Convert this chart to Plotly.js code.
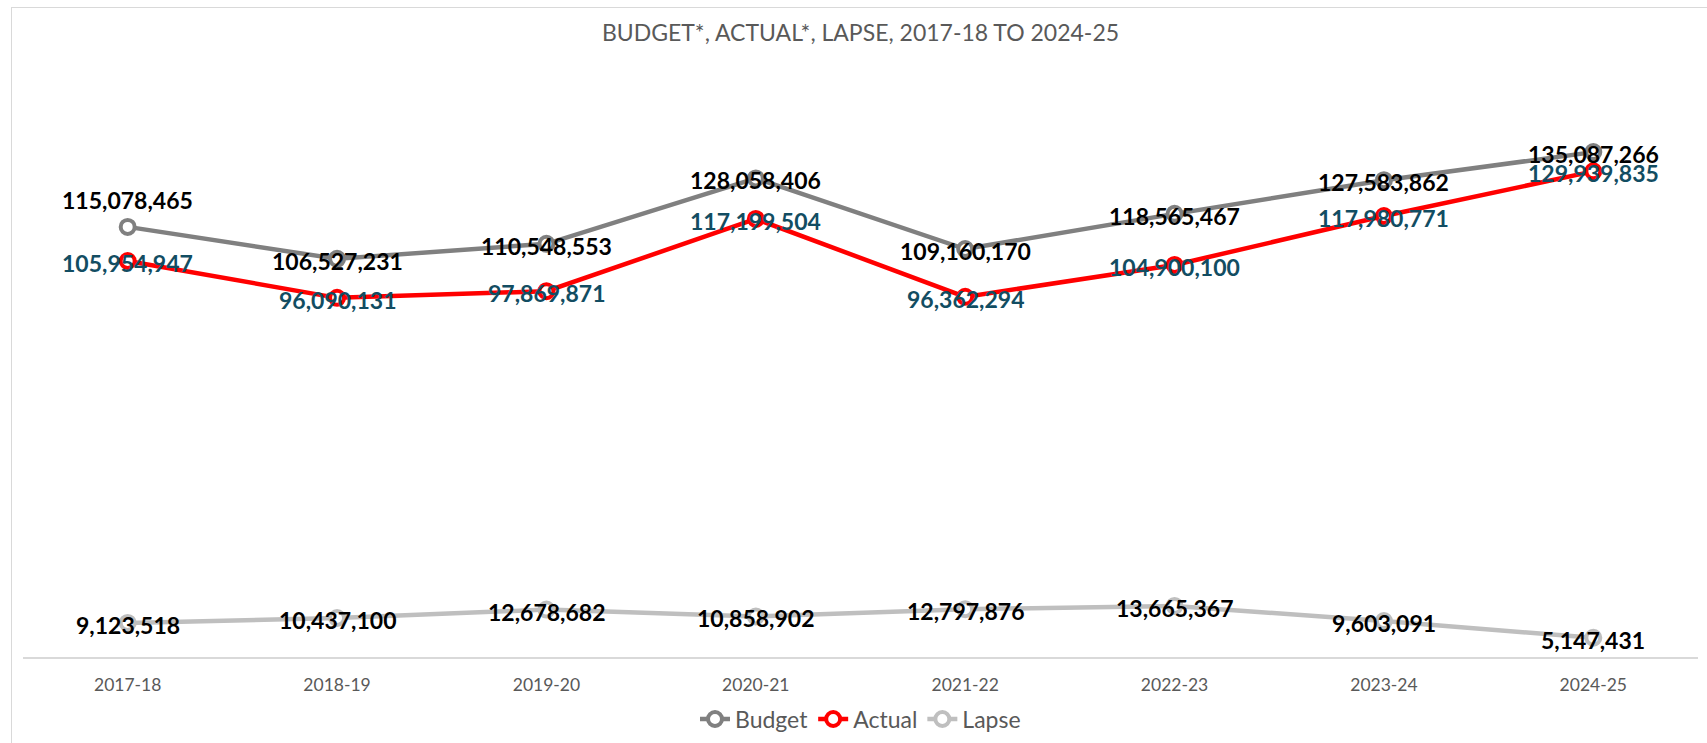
<!DOCTYPE html>
<html>
<head>
<meta charset="utf-8">
<script src="https://cdn.plot.ly/plotly-3.0.1.min.js"></script>
<style>
  html, body { margin: 0; padding: 0; background: #ffffff; }
  #wrap { position: relative; width: 1707px; height: 743px; overflow: hidden; }
  #chart { position: absolute; left: 0; top: 0; width: 1707px; height: 743px; }
  #frame { position: absolute; left: 11px; top: 7px; right: -5px; bottom: -5px;
           border-left: 1.5px solid #d9d9d9; border-top: 1.5px solid #d9d9d9; pointer-events: none; }
</style>
</head>
<body>
<div id="wrap">
  <div id="chart"></div>
  <div id="frame"></div>
</div>
<script>
const categories = ['2017-18', '2018-19', '2019-20', '2020-21', '2021-22', '2022-23', '2023-24', '2024-25'];
const budget = [115078465, 106527231, 110548553, 128058406, 109160170, 118565467, 127583862, 135087266];
const actual = [105954947, 96090131, 97869871, 117199504, 96362294, 104900100, 117980771, 129939835];
const lapse  = [9123518, 10437100, 12678682, 10858902, 12797876, 13665367, 9603091, 5147431];
const seriesNames = ['Budget', 'Actual', 'Lapse'];
const chartTitle = 'BUDGET*, ACTUAL*, LAPSE, 2017-18 TO 2024-25';

const FONT = 'Lato, "Open Sans", "Noto Sans", sans-serif';
const colors = { Budget: '#808080', Actual: '#ff0000', Lapse: '#bfbfbf' };
const labelColors = { Budget: '#000000', Actual: '#124d62', Lapse: '#000000' };
const seriesData = { Budget: budget, Actual: actual, Lapse: lapse };

const traces = seriesNames.map(name => ({
  type: 'scatter',
  mode: 'lines+markers',
  name: name,
  x: categories,
  y: seriesData[name],
  line: { color: colors[name], width: 4.5 },
  marker: { symbol: 'circle', size: 14, color: '#ffffff', line: { color: colors[name], width: 4 } },
  hoverinfo: 'x+y+name'
}));

// label vertical shifts (style only): first Budget label sits above its marker
const labelShift = { Budget: [27, -2, -2, -2, -2, -2, -2, -2], Actual: -2, Lapse: -2 };

const annotations = [];
seriesNames.forEach(name => {
  seriesData[name].forEach((v, i) => {
    const s = labelShift[name];
    annotations.push({
      x: categories[i], y: v, xref: 'x', yref: 'y',
      text: v.toLocaleString('en-US'),
      showarrow: false,
      xanchor: 'center', yanchor: 'middle',
      yshift: Array.isArray(s) ? s[i] : s,
      font: { family: FONT, size: 23, color: labelColors[name], weight: 700 }
    });
  });
});

const layout = {
  width: 1707, height: 743,
  paper_bgcolor: '#ffffff', plot_bgcolor: '#ffffff',
  margin: { l: 23, r: 9, t: 59.4, b: 86, pad: 0, autoexpand: false },
  title: {
    text: chartTitle,
    font: { family: FONT, size: 23, color: '#595959' },
    x: 0.5, xref: 'paper', xanchor: 'center',
    y: 1 - 33 / 743, yref: 'container', yanchor: 'middle'
  },
  xaxis: {
    type: 'category', range: [-0.5, 7.5],
    showline: true, linecolor: '#d9d9d9', linewidth: 1.5,
    ticks: '', showgrid: false, zeroline: false,
    tickfont: { family: FONT, size: 17.5, color: '#595959' },
    ticklabelstandoff: 11,
    automargin: false,
    fixedrange: true
  },
  yaxis: {
    range: [0, 160000000],
    showgrid: false, zeroline: false, showline: false, showticklabels: false, ticks: '',
    automargin: false,
    fixedrange: true
  },
  showlegend: true,
  legend: {
    orientation: 'h', x: 0.5, xanchor: 'center', y: (657 - 719) / 597.6, yanchor: 'middle',
    font: { family: FONT, size: 23, color: '#595959' },
    itemwidth: 30, bgcolor: 'rgba(0,0,0,0)', traceorder: 'normal'
  },
  annotations: annotations,
  hovermode: 'closest'
};

Plotly.newPlot('chart', traces, layout, { displayModeBar: false, responsive: false });
</script>
</body>
</html>
